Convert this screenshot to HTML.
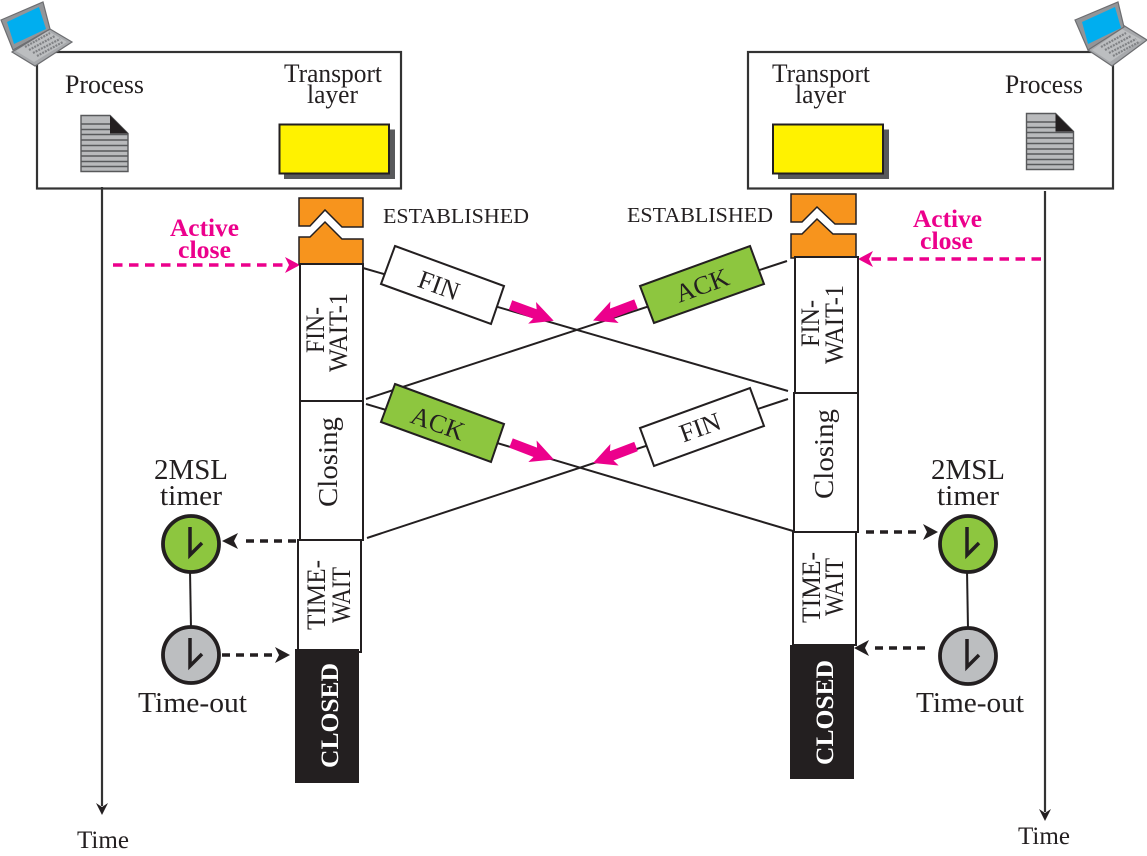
<!DOCTYPE html>
<html><head><meta charset="utf-8"><style>
html,body{margin:0;padding:0;background:#fff}
svg{display:block}
text{font-family:"Liberation Serif",serif;fill:#231f20;font-size:26px}
</style></head><body>
<svg width="1147" height="856" viewBox="0 0 1147 856" xmlns="http://www.w3.org/2000/svg">
<defs>
<g id="clk"><path d="M0,-17V11L12,-1" fill="none" stroke="#231f20" stroke-width="3.500"/></g>
<g id="pa"><polygon points="0,-5 26,-5 23,-11.500 46,0 23,11.500 26,5 0,5" fill="#ec008c"/></g>
<g id="doc">
<polygon points="0,0 29,0 47,18 47,56 0,56" fill="#b9babc" stroke="#58595b" stroke-width="1.400"/>
<path d="M0,8.500H29M0,14H29M0,19H47M0,24.500H47M0,30H47M0,35.500H47M0,40.500H47M0,46H47M0,51H47" stroke="#58595b" stroke-width="1.500" fill="none"/>
<polygon points="29,0 47,18 29,18" fill="#231f20"/>
</g>
</defs>

<!-- frames -->
<rect x="37" y="52" width="364" height="136.500" fill="#fff" stroke="#333" stroke-width="2.200"/>
<rect x="748" y="52" width="365" height="136.500" fill="#fff" stroke="#333" stroke-width="2.200"/>

<!-- laptop left -->
<polygon points="50,29 72,42 35,66 12,52" fill="#a7a9ac" stroke="#6d6e71" stroke-width="1.200"/>
<polygon points="48,31 67,42 34,62 16,51" fill="#bcbec0"/>
<path d="M25,47L50,33M29,50L55,36M33,53L60,39M37,56L63,42" stroke="#808285" stroke-width="2.200" stroke-dasharray="2 1" fill="none"/>
<polygon points="1,20 43,2 50,29 13,50" fill="#939598" stroke="#6d6e71" stroke-width="1.200"/>
<polygon points="7,22 39,7 46,29 14,44" fill="#00aeef"/>
<!-- laptop right -->
<polygon points="1123,25 1147,40 1112,66 1088,50" fill="#a7a9ac" stroke="#6d6e71" stroke-width="1.200"/>
<polygon points="1122,29 1142,40 1110,62 1092,50" fill="#bcbec0"/>
<path d="M1101,47L1126,33M1105,50L1131,36M1109,53L1136,39M1113,56L1139,42" stroke="#808285" stroke-width="2.200" stroke-dasharray="2 1" fill="none"/>
<polygon points="1075,20 1118,2 1124,27 1088,50" fill="#939598" stroke="#6d6e71" stroke-width="1.200"/>
<polygon points="1082,22 1115,7 1121,28 1088,44" fill="#00aeef"/>

<!-- docs -->
<use href="#doc" x="81" y="115.500"/>
<use href="#doc" x="1026.500" y="113.500"/>

<!-- yellow -->
<rect x="284" y="129.500" width="111" height="49.500" fill="#58595b"/>
<rect x="279.500" y="124.500" width="109.500" height="49" fill="#fff200" stroke="#231f20" stroke-width="2"/>
<rect x="778" y="129.500" width="111" height="49.500" fill="#58595b"/>
<rect x="773" y="124.500" width="110" height="49" fill="#fff200" stroke="#231f20" stroke-width="2"/>

<!-- header text -->
<text x="65" y="93" textLength="79" lengthAdjust="spacingAndGlyphs">Process</text>
<text x="284" y="82" textLength="98" lengthAdjust="spacingAndGlyphs">Transport</text>
<text x="307" y="103" textLength="51" lengthAdjust="spacingAndGlyphs">layer</text>
<text x="772" y="82" textLength="98" lengthAdjust="spacingAndGlyphs">Transport</text>
<text x="795" y="103" textLength="51" lengthAdjust="spacingAndGlyphs">layer</text>
<text x="1005" y="93" textLength="78" lengthAdjust="spacingAndGlyphs">Process</text>

<!-- time lines -->
<path d="M102,187V806" stroke="#333" stroke-width="2.200" fill="none"/>
<polygon points="96,803 102,807 108,803 102,815" fill="#231f20"/>
<path d="M1045,191V812" stroke="#333" stroke-width="2.200" fill="none"/>
<polygon points="1039,809 1045,813 1051,809 1045,821" fill="#231f20"/>
<text x="77" y="848" textLength="52" lengthAdjust="spacingAndGlyphs" style="font-size:25px">Time</text>
<text x="1018" y="844" textLength="52" lengthAdjust="spacingAndGlyphs" style="font-size:25px">Time</text>

<!-- ESTABLISHED -->
<text x="383" y="223" textLength="146" lengthAdjust="spacingAndGlyphs" style="font-size:21px">ESTABLISHED</text>
<text x="627" y="222" textLength="146" lengthAdjust="spacingAndGlyphs" style="font-size:21px">ESTABLISHED</text>

<!-- Active close -->
<g style="font-weight:bold">
<text x="170" y="236" textLength="69" lengthAdjust="spacingAndGlyphs" style="fill:#ec008c;font-size:25px">Active</text>
<text x="178" y="258" textLength="53" lengthAdjust="spacingAndGlyphs" style="fill:#ec008c;font-size:25px">close</text>
<text x="913" y="227" textLength="69" lengthAdjust="spacingAndGlyphs" style="fill:#ec008c;font-size:25px">Active</text>
<text x="920" y="249" textLength="53" lengthAdjust="spacingAndGlyphs" style="fill:#ec008c;font-size:25px">close</text>
</g>
<path d="M113,265H289" stroke="#ec008c" stroke-width="3.500" stroke-dasharray="9.500 6.500" fill="none"/>
<polygon points="300,265 285,257 289,265 285,273" fill="#ec008c"/>
<path d="M1041,259H870" stroke="#ec008c" stroke-width="3.500" stroke-dasharray="9.500 6.500" fill="none"/>
<polygon points="858,259 873,251 869,259 873,267" fill="#ec008c"/>

<!-- message lines -->
<g stroke="#231f20" stroke-width="2" fill="none">
<path d="M363,268L788,391"/>
<path d="M787,261L366,399"/>
<path d="M366,404L793,531"/>
<path d="M788,399L367,538"/>
</g>

<!-- message boxes -->
<g stroke="#231f20" stroke-width="2">
<polygon points="395,246 504,286 491,324 381,284" fill="#fff"/>
<polygon points="395,384 504,424 491,462 381,422" fill="#8dc63f"/>
<polygon points="750,246 764,284 654,323 640,286" fill="#8dc63f"/>
<polygon points="750,388 764,426 654,466 640,428" fill="#fff"/>
</g>
<text transform="translate(439,285) rotate(20)" text-anchor="middle" y="9" style="font-size:26px">FIN</text>
<text transform="translate(438,423) rotate(20)" text-anchor="middle" y="9" style="font-size:26px">ACK</text>
<text transform="translate(702,285) rotate(-20)" text-anchor="middle" y="9" style="font-size:26px">ACK</text>
<text transform="translate(700,427) rotate(-20)" text-anchor="middle" y="9" style="font-size:26px">FIN</text>

<!-- pink arrows -->
<use href="#pa" transform="translate(510.500,305) rotate(20)"/>
<use href="#pa" transform="translate(511,443) rotate(21)"/>
<use href="#pa" transform="translate(636,304) rotate(159)"/>
<use href="#pa" transform="translate(636,446.500) rotate(159)"/>

<!-- left state column -->
<g stroke="#231f20" stroke-width="1.500" fill="#f7941d">
<polygon points="299,198 363,198 363,227 342,227 325,210 310,226 299,226"/>
<polygon points="299,237 310,237 325,222 342,239 363,239 363,264 299,264"/>
</g>
<g stroke="#231f20" stroke-width="2" fill="#fff">
<rect x="300" y="264" width="63" height="137"/>
<rect x="300" y="401" width="63" height="139"/>
<rect x="298" y="540" width="63" height="112"/>
</g>
<rect x="295" y="649" width="64" height="134" fill="#231f20"/>

<!-- right state column -->
<g stroke="#231f20" stroke-width="1.500" fill="#f7941d">
<polygon points="791,194 856,194 856,224 835,224 817,207 802,222 791,222"/>
<polygon points="791,234 802,234 817,219 833,234 856,234 856,258 791,258"/>
</g>
<g stroke="#231f20" stroke-width="2" fill="#fff">
<rect x="795" y="257" width="63" height="136"/>
<rect x="794" y="393" width="64" height="139"/>
<rect x="793" y="532" width="63" height="113"/>
</g>
<rect x="790" y="645" width="64" height="134" fill="#231f20"/>

<!-- vertical text -->
<g style="font-size:24px">
<text transform="translate(324,353) rotate(-90)" textLength="46" lengthAdjust="spacingAndGlyphs">FIN-</text>
<text transform="translate(347,372) rotate(-90)" textLength="79" lengthAdjust="spacingAndGlyphs">WAIT-1</text>
<text transform="translate(337,507) rotate(-90)" textLength="90" lengthAdjust="spacingAndGlyphs" style="font-size:27px">Closing</text>
<text transform="translate(325,630) rotate(-90)" textLength="70" lengthAdjust="spacingAndGlyphs">TIME-</text>
<text transform="translate(350,623) rotate(-90)" textLength="56" lengthAdjust="spacingAndGlyphs">WAIT</text>
<text transform="translate(338,768) rotate(-90)" textLength="105" lengthAdjust="spacingAndGlyphs" style="fill:#fff;font-weight:bold;font-size:25px">CLOSED</text>

<text transform="translate(819,347) rotate(-90)" textLength="47" lengthAdjust="spacingAndGlyphs">FIN-</text>
<text transform="translate(843,364) rotate(-90)" textLength="79" lengthAdjust="spacingAndGlyphs">WAIT-1</text>
<text transform="translate(833,499) rotate(-90)" textLength="90" lengthAdjust="spacingAndGlyphs" style="font-size:27px">Closing</text>
<text transform="translate(820,623) rotate(-90)" textLength="71" lengthAdjust="spacingAndGlyphs">TIME-</text>
<text transform="translate(843,616) rotate(-90)" textLength="58" lengthAdjust="spacingAndGlyphs">WAIT</text>
<text transform="translate(833,765) rotate(-90)" textLength="105" lengthAdjust="spacingAndGlyphs" style="fill:#fff;font-weight:bold;font-size:25px">CLOSED</text>
</g>

<!-- timers left -->
<path d="M190,570L191,629" stroke="#231f20" stroke-width="2" fill="none"/>
<circle cx="191" cy="544" r="28" fill="#8dc63f" stroke="#231f20" stroke-width="3.800"/>
<circle cx="191" cy="655" r="28" fill="#bcbec0" stroke="#231f20" stroke-width="3.800"/>
<use href="#clk" x="190" y="544"/>
<use href="#clk" x="190" y="655"/>
<path d="M296,541H241" stroke="#231f20" stroke-width="3.500" stroke-dasharray="8 6" fill="none"/>
<polygon points="222,541 238,533 234,541 238,549" fill="#231f20"/>
<path d="M222,655H272" stroke="#231f20" stroke-width="3.500" stroke-dasharray="8 6" fill="none"/>
<polygon points="290,655 275,647 279,655 275,663" fill="#231f20"/>
<text x="154" y="479" textLength="74" lengthAdjust="spacingAndGlyphs" style="font-size:28px">2MSL</text>
<text x="160" y="505" textLength="62" lengthAdjust="spacingAndGlyphs" style="font-size:28px">timer</text>
<text x="138" y="712" textLength="109" lengthAdjust="spacingAndGlyphs" style="font-size:28px">Time-out</text>

<!-- timers right -->
<path d="M967,570L968,629" stroke="#231f20" stroke-width="2" fill="none"/>
<circle cx="968" cy="544" r="28" fill="#8dc63f" stroke="#231f20" stroke-width="3.800"/>
<circle cx="968" cy="656" r="28" fill="#bcbec0" stroke="#231f20" stroke-width="3.800"/>
<use href="#clk" x="967" y="544"/>
<use href="#clk" x="967" y="656"/>
<path d="M866,532H918" stroke="#231f20" stroke-width="3.500" stroke-dasharray="8 6" fill="none"/>
<polygon points="938,532 923,524 927,532 923,540" fill="#231f20"/>
<path d="M925,648H875" stroke="#231f20" stroke-width="3.500" stroke-dasharray="8 6" fill="none"/>
<polygon points="854,648 869,640 865,648 869,656" fill="#231f20"/>
<text x="931" y="479" textLength="74" lengthAdjust="spacingAndGlyphs" style="font-size:28px">2MSL</text>
<text x="937" y="505" textLength="62" lengthAdjust="spacingAndGlyphs" style="font-size:28px">timer</text>
<text x="916" y="712" textLength="108" lengthAdjust="spacingAndGlyphs" style="font-size:28px">Time-out</text>
</svg>
</body></html>
